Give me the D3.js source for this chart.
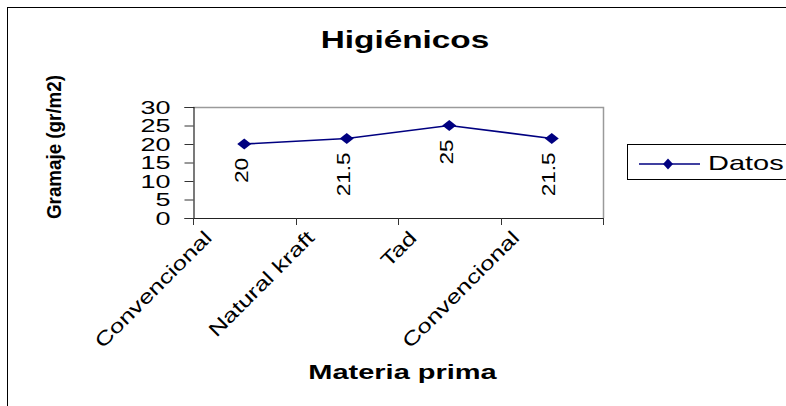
<!DOCTYPE html>
<html>
<head>
<meta charset="utf-8">
<script src="https://cdn.jsdelivr.net/npm/d3@7"></script>
<style>
  html, body { margin: 0; padding: 0; background: #fff; }
  svg { display: block; font-family: "Liberation Sans", Arial, sans-serif; }
</style>
</head>
<body>
<svg id="chart" width="786" height="406"></svg>
<script>
const categories = ["Convencional", "Natural kraft", "Tad", "Convencional"];
const values = [20, 21.5, 25, 21.5];
const yTicks = [0, 5, 10, 15, 20, 25, 30];
const seriesName = "Datos";
const chartTitle = "Higiénicos";
const xTitle = "Materia prima";
const yTitle = "Gramaje (gr/m2)";

const svg = d3.select("#chart");
const W = 786, H = 406;
const plot = { left: 193, right: 603, top: 107, bottom: 218 };
const navy = "#000080";

// outer chart border
svg.append("rect").attr("x", 7.5).attr("y", 7.5).attr("width", W + 10).attr("height", H + 10)
  .attr("fill", "#fff").attr("stroke", "#000").attr("stroke-width", 1);

const x = d3.scaleBand().domain(d3.range(categories.length)).range([plot.left, plot.right]).padding(0);
const y = d3.scaleLinear().domain([0, 30]).range([plot.bottom, plot.top]);

// plot area frame (gray top/right)
svg.append("path")
  .attr("d", `M${plot.left},${plot.top + 0.5}H${plot.right + 0.5}V${plot.bottom}`)
  .attr("fill", "none").attr("stroke", "#9a9a9a").attr("stroke-width", 1.5);

// y axis
const yAxis = svg.append("g").attr("transform", `translate(${plot.left + 0.5},0)`)
  .call(d3.axisLeft(y).tickValues(yTicks).tickSize(9).tickPadding(0).tickFormat(d3.format("d")));
yAxis.select(".domain").attr("stroke", "#222").attr("stroke-width", 1.2);
yAxis.selectAll(".tick line").attr("stroke", "#333");
yAxis.selectAll(".tick text")
  .attr("x", null).attr("dy", null)
  .attr("transform", "translate(-23,0) scale(1.5,1)")
  .attr("dy", "0.36em")
  .attr("font-size", 18).attr("fill", "#000")
  .attr("font-family", "Liberation Sans, Arial, sans-serif");

// x axis line and boundary ticks
const boundaries = d3.range(categories.length + 1).map(i => plot.left + i * x.step());
svg.append("line").attr("x1", plot.left).attr("x2", plot.right + 1)
  .attr("y1", plot.bottom + 0.5).attr("y2", plot.bottom + 0.5)
  .attr("stroke", "#222").attr("stroke-width", 1.2);
svg.selectAll(".xtick").data(boundaries).join("line").attr("class", "xtick")
  .attr("x1", d => Math.round(d) + 0.5).attr("x2", d => Math.round(d) + 0.5)
  .attr("y1", plot.bottom).attr("y2", plot.bottom + 7)
  .attr("stroke", "#333").attr("stroke-width", 1);

// x category labels (rotated -45)
svg.selectAll(".xlab").data(categories).join("text").attr("class", "xlab")
  .attr("transform", (d, i) => `translate(${x(i) + 20},239) rotate(-45) scale(1.32,1)`)
  .attr("text-anchor", "end").attr("font-size", 19.5).attr("fill", "#000")
  .text(d => d);

// line
const line = d3.line().x((d, i) => x(i) + x.bandwidth() / 2).y(d => y(d));
svg.append("path").datum(values).attr("d", line)
  .attr("fill", "none").attr("stroke", navy).attr("stroke-width", 1.6);

// diamond markers
const diamond = (cx, cy, hw, hh) => `M${cx},${cy - hh}L${cx + hw},${cy}L${cx},${cy + hh}L${cx - hw},${cy}Z`;
svg.selectAll(".mk").data(values).join("path").attr("class", "mk")
  .attr("d", (d, i) => diamond(x(i) + x.bandwidth() / 2, y(d), 7, 5.5))
  .attr("fill", navy);

// data labels (rotated -90, below points)
svg.selectAll(".dl").data(values).join("text").attr("class", "dl")
  .attr("transform", (d, i) => `translate(${x(i) + x.bandwidth() / 2 + 3.5},${y(d) + 14}) rotate(-90) scale(1.25,1)`)
  .attr("text-anchor", "end").attr("font-size", 18).attr("fill", "#000")
  .text(d => d);

// title
svg.append("text").attr("transform", "translate(405,48) scale(1.45,1)").attr("text-anchor", "middle")
  .attr("font-size", 23).attr("font-weight", "bold").text(chartTitle);

// x title
svg.append("text").attr("transform", "translate(402.5,379) scale(1.38,1)").attr("text-anchor", "middle")
  .attr("font-size", 21).attr("font-weight", "bold").text(xTitle);

// y title
svg.append("text").attr("transform", "translate(61,147) rotate(-90)").attr("text-anchor", "middle")
  .attr("font-size", 20).attr("font-weight", "bold")
  .attr("textLength", 144).attr("lengthAdjust", "spacingAndGlyphs").text(yTitle);

// legend
svg.append("rect").attr("x", 627.5).attr("y", 144.5).attr("width", 200).attr("height", 35)
  .attr("fill", "#fff").attr("stroke", "#000").attr("stroke-width", 1);
svg.append("line").attr("x1", 639).attr("x2", 700).attr("y1", 164).attr("y2", 164)
  .attr("stroke", navy).attr("stroke-width", 1.6);
svg.append("path").attr("d", diamond(668, 164, 5, 5.5)).attr("fill", navy);
svg.append("text").attr("transform", "translate(708,170) scale(1.45,1)").attr("font-size", 20)
  .text(seriesName);
</script>
</body>
</html>
